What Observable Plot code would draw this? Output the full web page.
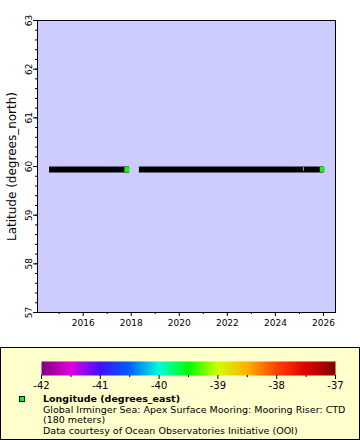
<!DOCTYPE html>
<html>
<head>
<meta charset="utf-8">
<script src="https://cdn.jsdelivr.net/npm/d3@7"></script>
<script src="https://cdn.jsdelivr.net/npm/@observablehq/plot@0.6"></script>
<style>
  body { margin: 0; background: white; font-family: "DejaVu Sans", sans-serif; }
  #wrap { width: 360px; height: 440px; position: relative; overflow: hidden; }
  #legend { position: absolute; left: 0; top: 347px; width: 360px; height: 93px; box-sizing: border-box;
            border: 1px solid black; background: #ffffcc; }
  .lt { position: absolute; left: 42px; font-size: 9.5px; line-height: 10px; white-space: nowrap; color: black; }
  #mk { position: absolute; left: 18px; top: 48px; width: 4px; height: 4px; border: 1px solid black; background: #00ff00; }
  #cbar { position: absolute; left: 0; top: 0; }
</style>
</head>
<body>
<div id="wrap">
  <div id="chart"></div>
  <div id="legend">
    <div id="cbar"></div>
    <div id="mk"></div>
    <div class="lt" style="top:46px;font-weight:bold">Longitude (degrees_east)</div>
    <div class="lt" style="top:56.5px">Global Irminger Sea: Apex Surface Mooring: Mooring Riser: CTD</div>
    <div class="lt" style="top:67px">(180 meters)</div>
    <div class="lt" style="top:77.5px">Data courtesy of Ocean Observatories Initiative (OOI)</div>
  </div>
</div>
<script>
// --- data ---
const deployStart = [2014.6, 2018.34];   // decimal year
const deployEnd   = [2017.93, 2026.02];
const deployLat   = [59.94, 59.94];
const markerTime  = [2017.82, 2025.95];
const markerLat   = [59.94, 59.94];
const markerLon   = [-39.47, -39.47];
const sliverTime  = [2025.17];
const sliverLat   = [59.94];
const sliverLon   = [-39.47];
const xTicks = [2016, 2018, 2020, 2022, 2024, 2026];
const xMinor = [2015, 2017, 2019, 2021, 2023, 2025];
const yTicks = [57, 58, 59, 60, 61, 62, 63];
const yMinor = d3.range(57, 63.001, 0.2);
const cTicks = [-42, -41, -40, -39, -38, -37];
const cMinor = [-41.5, -40.5, -39.5, -38.5, -37.5];
const paletteColors = ["#800080", "#e000e0", "#4010ff", "#0060ff", "#00ffd8", "#00ff00",
                       "#d0ff00", "#ffb000", "#ff4000", "#e00000", "#800000"];

const segments = deployStart.map((s, i) => ({start: s, end: deployEnd[i], lat: deployLat[i]}));
const markers = markerTime.map((t, i) => ({time: t, lat: markerLat[i], lon: markerLon[i]}));
const slivers = sliverTime.map((t, i) => ({time: t, lat: sliverLat[i], lon: sliverLon[i]}));

const colorScale = {type: "linear", domain: [-42, -37], interpolate: d3.piecewise(d3.interpolateRgb, paletteColors)};
const font = {fontFamily: "DejaVu Sans", fontSize: "9px", background: "white", color: "black", overflow: "visible"};

const chart = Plot.plot({
  width: 360, height: 347,
  marginLeft: 37, marginRight: 25, marginTop: 20, marginBottom: 35,
  style: font,
  x: {domain: [2014.1, 2026.5]},
  y: {domain: [57, 63]},
  color: colorScale,
  marks: [
    Plot.frame({fill: "#ccccff"}),
    Plot.axisX({ticks: xMinor, tickSize: 2, tickFormat: () => "", label: null}),
    Plot.axisX({ticks: xTicks, tickSize: 4, tickPadding: 3, tickFormat: d => String(d), label: null}),
    Plot.axisY({ticks: yMinor, tickSize: 2, tickFormat: () => "", label: null}),
    Plot.axisY({ticks: yTicks, tickSize: 4, tickPadding: 2, tickRotate: -90, tickFormat: d => String(d),
                label: "Latitude (degrees_north)", labelAnchor: "center", labelArrow: "none",
                labelOffset: 30, fontSize: 9}),
    Plot.ruleY(segments, {y: "lat", x1: "start", x2: "end", stroke: "black", strokeWidth: 6}),
    Plot.ruleX(slivers, {x: "time", y1: d => d.lat - 0.04, y2: d => d.lat + 0.04, stroke: "lon", strokeWidth: 1}),
    Plot.dot(markers, {x: "time", y: "lat", symbol: "square", r: 2.85, fill: "lon", stroke: null}),
    Plot.frame({stroke: "black"})
  ]
});
chart.querySelectorAll("text").forEach(t => {
  if (t.textContent === "Latitude (degrees_north)") t.setAttribute("font-size", "12");
});
document.getElementById("chart").appendChild(chart);

const cbar = Plot.plot({
  width: 358, height: 45,
  marginLeft: 40, marginRight: 24, marginTop: 13, marginBottom: 18,
  style: {fontFamily: "DejaVu Sans", fontSize: "10px", background: "transparent", color: "black", overflow: "visible"},
  x: {domain: [-42, -37]},
  y: {domain: [0, 1], axis: null},
  color: colorScale,
  marks: [
    Plot.raster({x1: -42, x2: -37, y1: 0, y2: 1, width: 300, height: 1, fill: (x, y) => x, imageRendering: "auto"}),
    Plot.axisX({ticks: cMinor, tickSize: 2, tickFormat: () => "", label: null}),
    Plot.axisX({ticks: cTicks, tickSize: 4, tickPadding: 2, tickFormat: d => String(d), label: null})
  ]
});
document.getElementById("cbar").appendChild(cbar);
</script>
</body>
</html>
